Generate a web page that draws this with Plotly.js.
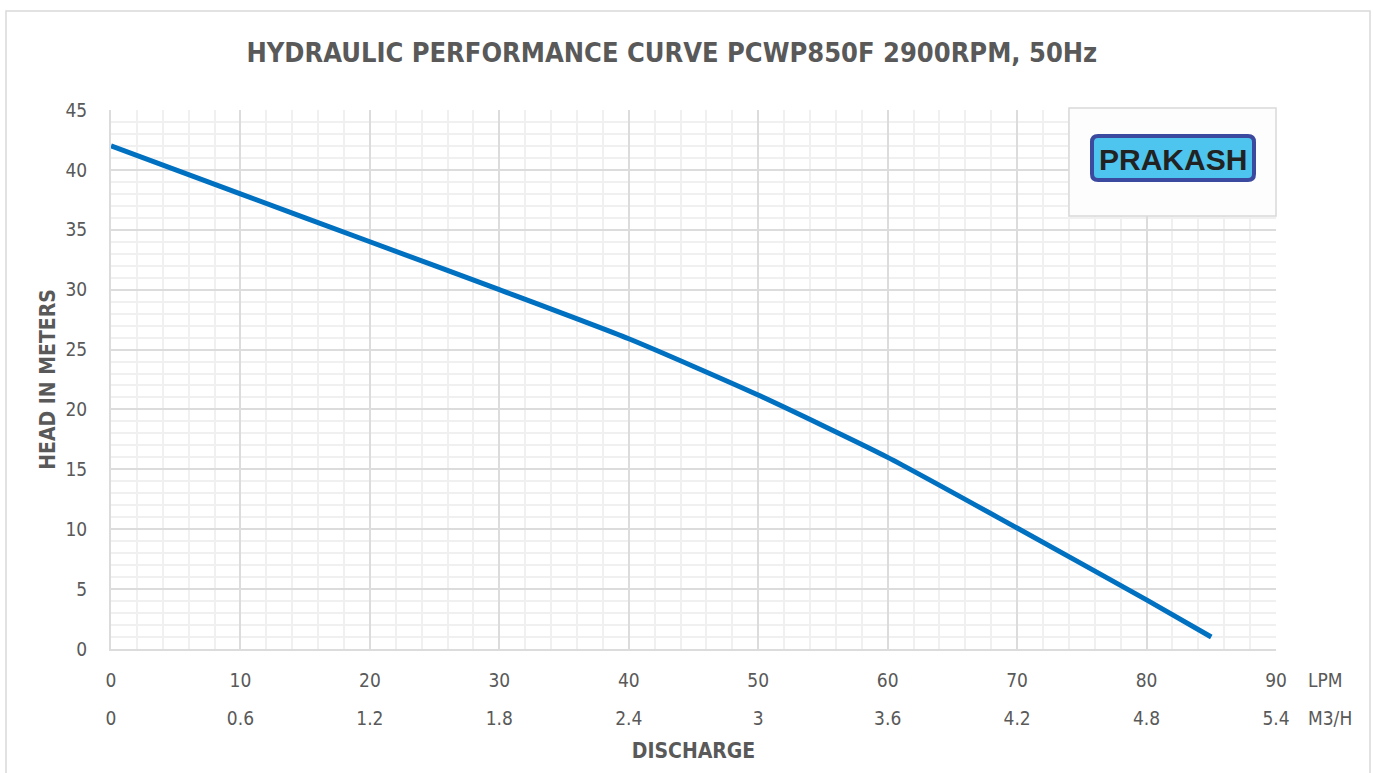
<!DOCTYPE html>
<html>
<head>
<meta charset="utf-8">
<script src="https://cdn.plot.ly/plotly-3.0.1.min.js"></script>
<style>
  html, body { margin: 0; padding: 0; background: #ffffff; }
  #chart { width: 1373px; height: 773px; }
</style>
</head>
<body>
<div id="chart"></div>
<script>
// ---- Data ----
const dischargeLPM = [0, 10, 20, 30, 40, 50, 60, 70, 80, 85];
const headMeters   = [42, 38, 34, 30, 25.9, 21.2, 16, 10.1, 4.1, 1];

const lpmTickVals  = [0, 10, 20, 30, 40, 50, 60, 70, 80, 90];
const lpmTickText  = ["0", "10", "20", "30", "40", "50", "60", "70", "80", "90"];
const m3hTickVals  = [0, 0.6, 1.2, 1.8, 2.4, 3, 3.6, 4.2, 4.8, 5.4];
const m3hTickText  = ["0", "0.6", "1.2", "1.8", "2.4", "3", "3.6", "4.2", "4.8", "5.4"];
const headTickVals = [0, 5, 10, 15, 20, 25, 30, 35, 40, 45];

const titleText  = "HYDRAULIC PERFORMANCE CURVE PCWP850F 2900RPM, 50Hz";
const xTitleText = "DISCHARGE";
const yTitleText = "HEAD IN METERS";
const unitTop    = "LPM";
const unitBottom = "M3/H";
const logoText   = "PRAKASH";

// ---- Styling ----
const FONT = "'DejaVu Sans Condensed', 'Liberation Sans Narrow', 'Roboto', sans-serif";
const TXT = "#595959";
const MAJOR = "#dcdcdc";
const MINOR = "#f0f0f0";

// pixel -> paper helpers for layout decoration (plot area 111..1276 x, 110..649 y)
const L = 111, R = 1276, T = 110, B = 649;
const px = v => (v - L) / (R - L);
const py = v => (B - v) / (B - T);

function roundRectPath(x0, y0, x1, y1, r) {
  const rx = r / (R - L), ry = r / (B - T);
  const X0 = px(x0), X1 = px(x1), Y0 = py(y1), Y1 = py(y0);
  return `M ${X0 + rx},${Y0} L ${X1 - rx},${Y0} Q ${X1},${Y0} ${X1},${Y0 + ry} ` +
         `L ${X1},${Y1 - ry} Q ${X1},${Y1} ${X1 - rx},${Y1} L ${X0 + rx},${Y1} ` +
         `Q ${X0},${Y1} ${X0},${Y1 - ry} L ${X0},${Y0 + ry} Q ${X0},${Y0} ${X0 + rx},${Y0} Z`;
}

const traces = [
  {
    x: dischargeLPM,
    y: headMeters,
    type: "scatter",
    mode: "lines",
    line: { color: "#0070C0", width: 5, shape: "spline", smoothing: 0.6 },
    showlegend: false,
    hoverinfo: "x+y"
  },
  // carrier for the secondary (M3/H) discharge axis, not visible
  {
    x: m3hTickVals,
    y: m3hTickVals.map(() => null),
    xaxis: "x2",
    yaxis: "y",
    type: "scatter",
    mode: "lines",
    showlegend: false,
    hoverinfo: "skip"
  }
];

const layout = {
  width: 1373,
  height: 773,
  paper_bgcolor: "#ffffff",
  plot_bgcolor: "#ffffff",
  margin: { l: L, r: 1373 - R, t: T, b: 773 - B, pad: 0 },
  font: { family: FONT, color: TXT, size: 19 },
  title: {
    text: titleText,
    x: 661 / 1373, xanchor: "center", xref: "paper",
    y: 1 - 53 / 773, yanchor: "middle", yref: "container",
    font: { family: FONT, size: 27, color: TXT, weight: "bold" }
  },
  xaxis: {
    range: [0, 90],
    tickvals: lpmTickVals,
    ticktext: lpmTickText,
    ticks: "",
    ticklabelstandoff: 13,
    showgrid: true, gridcolor: MAJOR, gridwidth: 2,
    minor: { dtick: 2, showgrid: true, gridcolor: MINOR, gridwidth: 2 },
    showline: true, linecolor: MAJOR, linewidth: 2, mirror: false,
    zeroline: false,
    fixedrange: true,
    tickfont: { family: FONT, size: 19, color: TXT }
  },
  xaxis2: {
    overlaying: "x",
    anchor: "y",
    side: "bottom",
    range: [0, 5.4],
    tickvals: m3hTickVals,
    ticktext: m3hTickText,
    ticks: "",
    ticklabelstandoff: 56,
    showgrid: false, showline: false, zeroline: false,
    fixedrange: true,
    tickfont: { family: FONT, size: 19, color: TXT },
    title: { text: xTitleText, standoff: 15, font: { family: FONT, size: 21, color: TXT, weight: "bold" } }
  },
  yaxis: {
    range: [0, 45],
    tickvals: headTickVals,
    ticks: "",
    ticklabelstandoff: 18,
    showgrid: true, gridcolor: MAJOR, gridwidth: 2,
    minor: { dtick: 1, showgrid: true, gridcolor: MINOR, gridwidth: 2 },
    showline: true, linecolor: MAJOR, linewidth: 2,
    zeroline: false,
    fixedrange: true,
    tickfont: { family: FONT, size: 19, color: TXT },
    title: { text: yTitleText, standoff: 4, font: { family: FONT, size: 21, color: TXT, weight: "bold" } }
  },
  shapes: [
    // outer chart frame
    { type: "rect", xref: "paper", yref: "paper",
      x0: px(6), x1: px(1370), y0: py(780), y1: py(11),
      line: { color: "#d9d9d9", width: 1.5 }, fillcolor: "rgba(0,0,0,0)", layer: "below" },
    // logo box
    { type: "rect", xref: "paper", yref: "paper",
      x0: px(1069), x1: px(1276), y0: py(216), y1: py(108),
      line: { color: "#d9d9d9", width: 1.5 }, fillcolor: "#fdfdfd", layer: "above" },
    // logo badge
    { type: "path", xref: "paper", yref: "paper",
      path: roundRectPath(1092, 136, 1254, 180, 6),
      line: { color: "#3b4a9e", width: 4 }, fillcolor: "#4ec5ef", layer: "above" }
  ],
  annotations: [
    { text: unitTop, xref: "paper", yref: "paper", x: px(1306), y: py(680),
      xanchor: "left", yanchor: "middle", showarrow: false,
      font: { family: FONT, size: 19, color: TXT } },
    { text: unitBottom, xref: "paper", yref: "paper", x: px(1306), y: py(718),
      xanchor: "left", yanchor: "middle", showarrow: false,
      font: { family: FONT, size: 19, color: TXT } },
    { text: logoText, xref: "paper", yref: "paper", x: px(1173), y: py(159),
      xanchor: "center", yanchor: "middle", showarrow: false,
      font: { family: "'Liberation Sans', 'DejaVu Sans', sans-serif", size: 30, color: "#222222", weight: "bold" } }
  ]
};

Plotly.newPlot("chart", traces, layout, { displayModeBar: false, staticPlot: true });
</script>
</body>
</html>
